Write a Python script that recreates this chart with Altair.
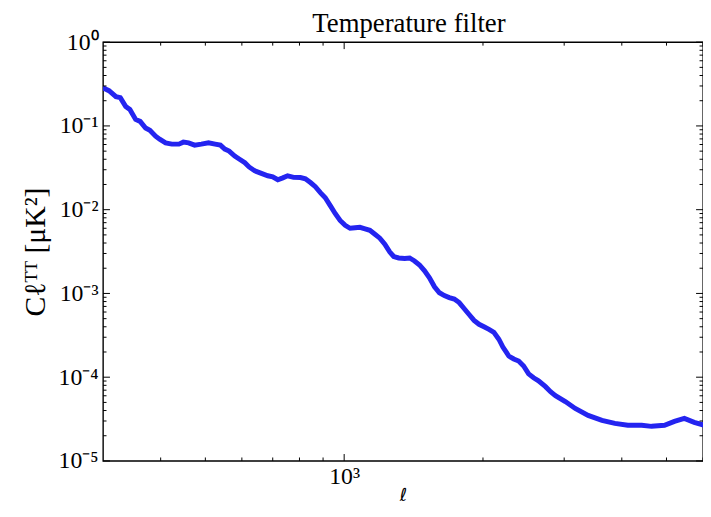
import altair as alt
import pandas as pd

# Data (multipole ell, C_ell^TT in uK^2)
ell = [300, 302, 309, 320, 327, 336, 343, 353, 361, 371, 379, 390, 398, 410, 423, 438, 448, 460, 474, 490,
       508, 525, 539, 551, 563, 579, 592, 609, 622, 640, 657, 683, 700, 718, 736, 754, 777, 804, 824, 845,
       866, 888, 910, 933, 956, 980, 1005, 1030, 1056, 1082, 1110, 1137, 1166, 1195, 1225, 1256, 1281, 1313,
       1353, 1387, 1421, 1457, 1494, 1531, 1570, 1609, 1649, 1690, 1733, 1776, 1820, 1866, 1913, 1961, 2010,
       2061, 2112, 2165, 2209, 2275, 2332, 2390, 2450, 2512, 2575, 2639, 2733, 2802, 2872, 3017, 3170, 3381,
       3623, 3864, 4122, 4418, 4642, 4950, 5202, 5466, 5743, 6035]
cl = [0.2805, 0.2805, 0.2636, 0.2239, 0.2178, 0.1706, 0.1571, 0.1197, 0.1133, 0.0944, 0.0887, 0.0754, 0.0695,
      0.0628, 0.0606, 0.0606, 0.0640, 0.0628, 0.0590, 0.0606, 0.0628, 0.0606, 0.0590, 0.0529, 0.0501, 0.0437,
      0.0403, 0.0364, 0.0324, 0.0291, 0.0275, 0.0254, 0.0247, 0.0228, 0.0240, 0.0254, 0.0243, 0.0242, 0.0234,
      0.0211, 0.0188, 0.0160, 0.0139, 0.0112, 0.00902, 0.00745, 0.00650, 0.00600, 0.00608, 0.00616, 0.00591,
      0.00568, 0.00509, 0.00457, 0.00388, 0.00312, 0.00276, 0.00265, 0.00261, 0.00265, 0.00244, 0.00219,
      0.00186, 0.00154, 0.00120, 0.00102, 0.000942, 0.000891, 0.000857, 0.000778, 0.000661, 0.000561,
      0.000477, 0.000428, 0.000400, 0.000373, 0.000344, 0.000284, 0.000229, 0.000179, 0.000165, 0.000156,
      0.000136, 0.0001096, 9.84e-5, 9.06e-5, 7.71e-5, 6.72e-5, 6.03e-5, 5.12e-5, 4.23e-5, 3.50e-5, 3.05e-5,
      2.81e-5, 2.67e-5, 2.67e-5, 2.59e-5, 2.67e-5, 2.97e-5, 3.22e-5, 2.89e-5, 2.67e-5]

x_major = [1000]
x_minor = [400, 500, 600, 700, 800, 900, 2000, 3000, 4000, 5000, 6000]
y_major = [1e-5, 1e-4, 1e-3, 1e-2, 1e-1, 1]
y_minor = [m * 10.0 ** k for k in range(-5, 0) for m in range(2, 10)]

W, H = 606, 423
FONT = "Liberation Serif"
COLOR = "#2424f0"

df = pd.DataFrame({"ell": ell, "cl": cl})
xscale = alt.Scale(type="log", domain=[300, 6000], nice=False)
yscale = alt.Scale(type="log", domain=[1e-5, 1], nice=False)

sup_expr = ("'10' + (round(log(datum.value)/LN10) < 0 ? '\u207b' : '') + "
            "substring('\u2070\u00b9\u00b2\u00b3\u2074\u2075\u2076\u2077\u2078\u2079', "
            "abs(round(log(datum.value)/LN10)), abs(round(log(datum.value)/LN10)) + 1)")

line = alt.Chart(df).mark_line(color=COLOR, strokeWidth=5, clip=True).encode(
    x=alt.X("ell:Q", scale=xscale,
            axis=alt.Axis(values=x_major, labelExpr=sup_expr, ticks=False, domain=False, grid=False,
                          title="\u2113", titleFontSize=18, titleFont="DejaVu Sans", titleFontWeight="normal",
                          titleBaseline="bottom", titleY=44,
                          labelFont=FONT, labelFontSize=24, labelPadding=4, labelColor="black")),
    y=alt.Y("cl:Q", scale=yscale,
            axis=alt.Axis(values=y_major, labelExpr=sup_expr, ticks=False, domain=False, grid=False,
                          title="C\u2113\u1d40\u1d40 [\u03bcK\u00b2]", titleFontSize=30, titleFont=FONT,
                          titleFontWeight="normal", titlePadding=8,
                          labelFont=FONT, labelFontSize=24, labelPadding=5, labelColor="black")),
)


def xticks(vals, L):
    d = pd.DataFrame({"ell": vals})
    base = alt.Chart(d)
    bottom = base.mark_rule(color="black", strokeWidth=1).encode(
        x=alt.X("ell:Q", scale=xscale), y=alt.value(H), y2=alt.value(H - L))
    top = base.mark_rule(color="black", strokeWidth=1).encode(
        x=alt.X("ell:Q", scale=xscale), y=alt.value(0), y2=alt.value(L))
    return [bottom, top]


def yticks(vals, L):
    d = pd.DataFrame({"cl": vals})
    base = alt.Chart(d)
    left = base.mark_rule(color="black", strokeWidth=1).encode(
        y=alt.Y("cl:Q", scale=yscale), x=alt.value(0), x2=alt.value(L))
    right = base.mark_rule(color="black", strokeWidth=1).encode(
        y=alt.Y("cl:Q", scale=yscale), x=alt.value(W), x2=alt.value(W - L))
    return [left, right]


layers = [line] + xticks(x_major, 7) + xticks(x_minor, 3.5) + yticks(y_major, 7) + yticks(y_minor, 3.5)

chart = alt.layer(*layers).properties(
    width=W, height=H,
    title=alt.Title("Temperature filter", font=FONT, fontSize=27, fontWeight="normal", color="black",
                    offset=-8, dx=6),
    autosize=alt.AutoSizeParams(type="none"),
    padding={"left": 96, "top": 32, "right": 0, "bottom": 45},
).configure_view(stroke="black", strokeWidth=1.4)

chart.save("out.html", embed_options={"renderer": "svg", "actions": False})
